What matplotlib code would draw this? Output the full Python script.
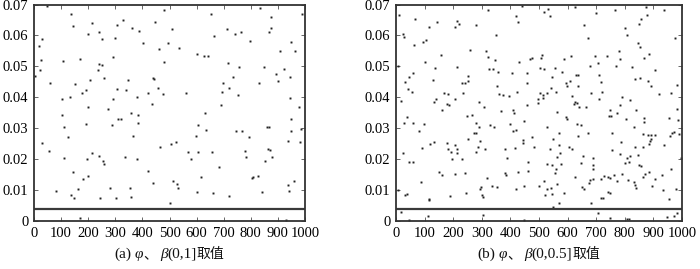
import matplotlib
matplotlib.use("Agg")
from matplotlib import pyplot as plt

# panel (a): phi, beta in (0,1]
x_a = [47, 135, 143, 215, 198, 241, 250, 305, 327, 362, 389, 299, 403, 445, 480, 508, 493, 460, 480,
       31, 18, 25, 22, 5, 59, 107, 170, 240, 250, 235, 257, 292, 207, 151, 177, 191, 132, 104, 293,
       305, 339, 348, 379, 420, 438, 443, 458, 475, 434, 198, 272, 309, 322, 357, 385, 103, 535,
       834, 652, 876, 990, 713, 875, 867, 742, 763, 665, 797, 948, 908, 964, 603, 627, 641, 717,
       755, 850, 923, 893, 943, 733, 900, 699, 831, 718, 695, 561, 753, 945, 691, 977, 630, 948,
       112, 124, 30, 55, 111, 192, 288, 384, 366, 379, 336, 213, 239, 256, 259, 196, 143, 182,
       200, 81, 162, 137, 148, 245, 280, 304, 353, 357, 420, 440, 465, 504, 523, 512, 528, 532,
       503, 169,
       604, 636, 599, 569, 606, 657, 578, 683, 615, 600, 659, 720, 745, 769, 794, 780, 782, 803,
       809, 828, 841, 851, 863, 870, 878, 860, 867, 947, 937, 983, 985, 959, 938, 942, 930]
y_a = [.0695, .0669, .0630, .0639, .0606, .0611, .0587, .0635, .0649, .0625, .0615, .0593, .0574,
       .0643, .0683, .0620, .0574, .0555, .0513, .0587, .0566, .0521, .0489, .0470, .0445, .0516,
       .0525, .0508, .0503, .0487, .0462, .0529, .0455, .0442, .0414, .0423, .0402, .0395, .0394,
       .0426, .0423, .0455, .0402, .0415, .0461, .0459, .0430, .0411, .0377, .0370, .0363, .0331,
       .0330, .0350, .0343, .0343, .0560,
       .0690, .0668, .0659, .0668, .0620, .0624, .0610, .0606, .0611, .0597, .0583, .0578, .0551,
       .0551, .0539, .0533, .0533, .0512, .0499, .0499, .0490, .0474, .0466, .0466, .0454, .0446,
       .0446, .0430, .0418, .0414, .0406, .0399, .0375, .0369, .0350, .0331,
       .0305, .0271, .0253, .0227, .0203, .0315, .0311, .0318, .0275, .0201, .0208, .0221, .0211,
       .0195, .0183, .0199, .0158, .0136, .0147, .0098, .0102, .0084, .0073, .0073, .0108, .0073,
       .0108, .0079, .0162, .0124, .0240, .0248, .0254, .0129, .0120, .0106, .0059, .0011,
       .0311, .0294, .0275, .0224, .0224, .0224, .0199, .0175, .0143, .0095, .0091, .0082, .0291,
       .0292, .0271, .0227, .0208, .0138, .0143, .0147, .0095, .0193, .0234, .0230, .0206, .0305,
       .0305, .0291, .0259, .0256, .0298, .0129, .0117, .0096, .0004]

# panel (b): phi, beta in (0,0.5]
x_b = [10, 66, 117, 143, 106, 94, 63, 26, 28, 212, 219, 207, 280, 321, 420, 425, 442, 349, 260,
       315, 322, 345, 325, 339, 357, 157, 100, 138, 212, 8, 128, 59, 44, 31, 41, 56, 252, 252,
       240, 232, 233, 168, 183, 178, 185, 205, 141, 134, 161, 17, 289, 308, 354, 361, 373, 395,
       406, 422, 409, 413, 429, 457, 459, 457, 367, 247, 265, 37,
       519, 530, 538, 626, 699, 766, 874, 937, 877, 856, 850, 801, 808, 657, 670, 977, 847, 854,
       886, 867, 779, 782, 768, 825, 905, 695, 737, 705, 679, 612, 587, 509, 507, 476, 469, 502,
       517, 556, 580, 637, 629, 544, 594, 607, 598, 635, 709, 717, 719, 711, 682, 616, 558, 542,
       527, 502, 513, 515, 497, 495, 626, 633, 639, 664, 622, 564, 749, 752, 746, 774, 784, 791,
       818, 839, 837, 852, 881, 891, 920, 960, 981, 983, 956, 868, 804, 593, 597,
       29, 58, 98, 81, 23, 90, 119, 44, 59, 86, 6, 37, 33, 17, 47, 114, 117, 111, 151, 161, 189,
       133, 177, 182, 206, 214, 191, 196, 212, 232, 253, 279, 273, 280, 286, 279, 311, 241, 206,
       244, 295, 290, 330, 342, 297, 293, 302, 305, 304, 317, 335, 352, 380, 388, 382, 384, 399,
       409, 419, 416, 448, 444, 445, 460, 460, 425, 419, 448, 449,
       633, 647, 672, 635, 569, 548, 528, 477, 484, 570, 538, 575, 562, 605, 614, 529, 545, 559,
       555, 577, 648, 655, 688, 688, 690, 678, 689, 675, 650, 657, 627, 867, 833, 862, 881, 890,
       904, 887, 893, 755, 787, 756, 783, 809, 817, 816, 802, 835, 847, 849, 858, 865, 883, 986,
       988, 971, 964, 957, 998, 938, 963, 931, 904, 895, 935, 956, 980, 717, 728, 740, 749, 761,
       772, 790, 810, 833, 836, 838, 864, 872, 883, 742, 748, 716, 725, 681, 705, 747, 807, 816,
       948, 971, 983, 550, 499, 519, 527, 520, 545, 563, 541, 589, 571]
y_b = [.0667, .0653, .0628, .0642, .0586, .0578, .0569, .0606, .0594, .0648, .0636, .0628, .0634,
       .0682, .0664, .0644, .0695, .0601, .0554, .0551, .0530, .0520, .0490, .0490, .0482, .0538,
       .0515, .0495, .0499, .0502, .0456, .0478, .0466, .0450, .0426, .0418, .0469, .0452, .0447,
       .0445, .0415, .0413, .0411, .0378, .0375, .0393, .0394, .0384, .0359, .0387, .0384, .0369,
       .0436, .0412, .0406, .0403, .0477, .0418, .0359, .0348, .0515, .0447, .0477, .0375, .0357,
       .0339, .0343, .0335,
       .0677, .0685, .0663, .0693, .0671, .0682, .0693, .0682, .0666, .0653, .0637, .0623, .0600,
       .0634, .0591, .0591, .0576, .0563, .0541, .0528, .0550, .0524, .0501, .0498, .0489, .0532,
       .0532, .0511, .0502, .0532, .0524, .0537, .0528, .0528, .0525, .0494, .0490, .0494, .0482,
       .0473, .0471, .0465, .0445, .0452, .0436, .0436, .0472, .0449, .0416, .0393, .0414, .0405,
       .0417, .0429, .0413, .0415, .0406, .0397, .0395, .0382, .0385, .0380, .0368, .0369, .0378,
       .0353, .0359, .0338, .0339, .0348, .0376, .0401, .0391, .0359, .0459, .0461, .0453, .0436,
       .0410, .0414, .0441, .0361, .0332, .0332, .0331, .0335, .0330,
       .0318, .0318, .0314, .0290, .0221, .0237, .0248, .0190, .0192, .0125, .0100, .0086, .0083,
       .0028, .0003, .0068, .0071, .0016, .0159, .0148, .0081, .0254, .0251, .0232, .0245, .0234,
       .0223, .0200, .0221, .0199, .0266, .0318, .0284, .0284, .0240, .0224, .0232, .0154, .0153,
       .0091, .0260, .0303, .0309, .0305, .0109, .0104, .0084, .0077, .0019, .0140, .0112, .0111,
       .0232, .0205, .0156, .0148, .0315, .0292, .0294, .0237, .0324, .0262, .0253, .0192, .0163,
       .0159, .0102, .0114, .0003,
       .0314, .0310, .0283, .0275, .0283, .0264, .0303, .0271, .0238, .0246, .0232, .0219, .0208,
       .0240, .0233, .0184, .0181, .0167, .0156, .0183, .0189, .0210, .0205, .0181, .0169, .0133,
       .0137, .0124, .0109, .0102, .0143, .0321, .0305, .0281, .0277, .0277, .0278, .0260, .0266,
       .0283, .0254, .0230, .0216, .0205, .0210, .0192, .0189, .0239, .0214, .0181, .0178, .0240,
       .0249, .0327, .0280, .0289, .0283, .0276, .0203, .0247, .0167, .0148, .0135, .0113, .0099,
       .0070, .0102, .0135, .0147, .0143, .0139, .0148, .0130, .0153, .0133, .0126, .0117, .0107,
       .0143, .0151, .0158, .0093, .0092, .0075, .0073, .0057, .0025, .0011, .0006, .0006, .0012,
       .0016, .0025, .0044, .0113, .0128, .0104, .0084, .0086, .0119, .0108, .0089, .0059]

threshold = 0.004
x_ticks = list(range(0, 1001, 100))
y_ticks = [0, 0.01, 0.02, 0.03, 0.04, 0.05, 0.06, 0.07]
y_tick_labels = ["0", "0.01", "0.02", "0.03", "0.04", "0.05", "0.06", "0.07"]
captions = [("(a)", "(0,1]"), ("(b)", "(0,0.5]")]

SERIF = "Liberation Serif"
CJK = "Noto Sans CJK SC"


def draw_panel(ax, xs, ys):
    ax.plot(xs, ys, "s", ms=1.4, mew=0, color="#222222", clip_on=False)
    ax.axhline(threshold, color="#3a3a3a", lw=1.6)
    ax.set_xlim(0, 1000)
    ax.set_ylim(0, 0.07)
    ax.set_xticks(x_ticks)
    ax.set_yticks(y_ticks)
    ax.set_yticklabels(y_tick_labels)
    ax.tick_params(direction="in", top=True, right=True, length=3, width=0.7,
                   color="#666666", labelsize=10.5, pad=4)
    for lab in ax.get_xticklabels() + ax.get_yticklabels():
        lab.set_fontfamily(SERIF)
    for sp in ax.spines.values():
        sp.set_linewidth(1.3)
        sp.set_color("#333333")


def caption(fig, cx, cy, tag, rng):
    pieces = [
        (tag, dict(family=SERIF, size=11), 3),
        ("φ", dict(family=SERIF, size=11, style="italic"), 0),
        ("、", dict(family=CJK, size=10), 3),
        ("β", dict(family=SERIF, size=11, style="italic"), 0),
        (rng, dict(family=SERIF, size=11), 0),
        ("取值", dict(family=CJK, size=10), 0),
    ]
    texts = [fig.text(0, cy, s, va="baseline", ha="left", color="#111111", **kw)
             for s, kw, g in pieces]
    fig.canvas.draw()
    r = fig.canvas.get_renderer()
    W = fig.bbox.width
    widths = [t.get_window_extent(r).width + g for t, (s, kw, g) in zip(texts, pieces)]
    x = cx * W - sum(widths) / 2
    for t, w in zip(texts, widths):
        t.set_x(x / W)
        x += w


fig = plt.figure(figsize=(7, 2.69), dpi=100)
ax_a = fig.add_axes([34 / 700, 48 / 269, 271 / 700, 216.5 / 269])
ax_b = fig.add_axes([396 / 700, 48 / 269, 286 / 700, 216.5 / 269])
draw_panel(ax_a, x_a, y_a)
draw_panel(ax_b, x_b, y_b)

caption(fig, (34 + 271 / 2) / 700, 11 / 269, *captions[0])
caption(fig, (396 + 286 / 2) / 700, 11 / 269, *captions[1])

fig.savefig("out.png", dpi=100)
